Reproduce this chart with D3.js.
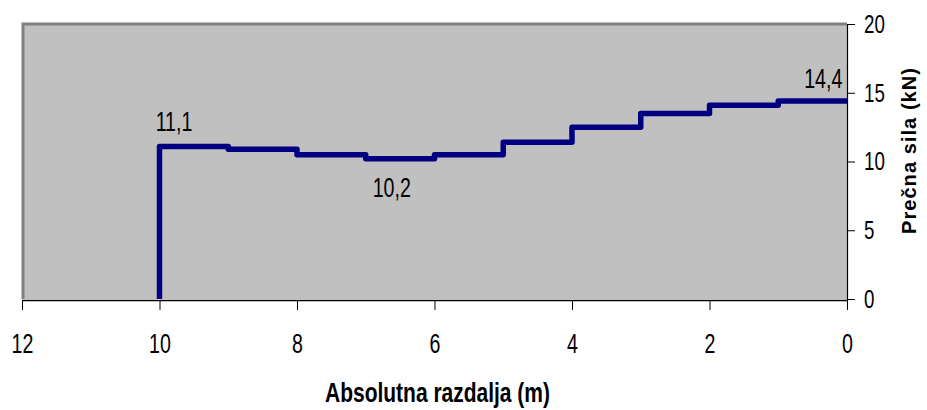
<!DOCTYPE html>
<html>
<head>
<meta charset="utf-8">
<script src="https://cdn.jsdelivr.net/npm/d3@7"></script>
<style>
  html, body { margin: 0; padding: 0; background: #fff; }
  svg { display: block; }
  text { font-family: "Liberation Sans", Arial, sans-serif; fill: #000; }
</style>
</head>
<body>
<svg id="chart" width="927" height="410"></svg>
<script>
// Segment start positions (m) and shear force on each segment (kN)
const segStart = [10, 9, 8, 7, 6, 5, 4, 3, 2, 1];
const shear = [11.1, 10.9, 10.5, 10.2, 10.5, 11.4, 12.5, 13.5, 14.1, 14.4];
const xTicks = [12, 10, 8, 6, 4, 2, 0];
const yTicks = [0, 5, 10, 15, 20];
// Annotated values: index into the segments
const labelled = [0, 3, 9];

const svg = d3.select("#chart");
const m = { left: 22, right: 847, top: 24, bottom: 299 };

const x = d3.scaleLinear().domain([12, 0]).range([m.left, m.right]);
const y = d3.scaleLinear().domain([0, 20]).range([m.bottom, m.top]);

// Squeeze text horizontally to get a narrow face
function condense(sel, k) {
  sel.each(function () {
    const w = this.getComputedTextLength();
    d3.select(this).attr("textLength", w * k).attr("lengthAdjust", "spacingAndGlyphs");
  });
}

// Plot area
svg.append("rect")
  .attr("x", m.left).attr("y", m.top - 1)
  .attr("width", m.right - m.left).attr("height", m.bottom - m.top + 1)
  .attr("fill", "#c0c0c0");
svg.append("path")
  .attr("d", `M${m.left + 1},${m.bottom}V${m.top}H${m.right}`)
  .attr("fill", "none").attr("stroke", "#808080").attr("stroke-width", 3);

// Step line
const pts = [[10, 0]].concat(segStart.map((s, i) => [s, shear[i]]));
pts.push([0, shear[shear.length - 1]]);
const line = d3.line().x(d => x(d[0])).y(d => y(d[1])).curve(d3.curveStepAfter);
svg.append("path")
  .attr("d", line(pts))
  .attr("fill", "none")
  .attr("stroke", "#000080")
  .attr("stroke-width", 5.5)
  .attr("stroke-linejoin", "round");

// X axis
const xAxis = svg.append("g")
  .attr("transform", `translate(0,${m.bottom + 1})`)
  .attr("font-family", null)
  .call(d3.axisBottom(x).tickValues(xTicks).tickSize(10).tickSizeOuter(0).tickPadding(23).tickFormat(d3.format("d")));
xAxis.attr("font-family", null);
xAxis.select(".domain").attr("stroke", "#000").attr("stroke-width", 1.5);
xAxis.selectAll(".tick line").attr("stroke", "#000");
xAxis.selectAll("text").attr("font-size", 28).attr("fill", "#000").call(condense, 0.7);

// Y axis (right side)
const yAxis = svg.append("g")
  .attr("transform", `translate(${m.right},0)`)
  .call(d3.axisRight(y).tickValues(yTicks).tickSize(8).tickSizeOuter(0).tickPadding(9).tickFormat(d3.format("d")));
yAxis.attr("font-family", null);
yAxis.select(".domain").attr("stroke", "#000").attr("stroke-width", 1.2);
yAxis.selectAll(".tick line").attr("stroke", "#000");
yAxis.selectAll("text").attr("font-size", 26).attr("fill", "#000").call(condense, 0.72);

// Value labels
const fmt = v => String(v).replace(".", ",");
const labelOffset = { 0: [14.5, -15.5], 3: [26, 38], 9: [45, -13] };
labelled.forEach(i => {
  const off = labelOffset[i];
  svg.append("text")
    .attr("x", x(segStart[i]) + off[0])
    .attr("y", y(shear[i]) + off[1])
    .attr("text-anchor", "middle")
    .attr("font-size", 28)
    .text(fmt(shear[i]))
    .call(condense, 0.7);
});

// Axis titles
svg.append("text")
  .attr("x", 437.5)
  .attr("y", 402)
  .attr("text-anchor", "middle")
  .attr("font-size", 27)
  .attr("font-weight", "bold")
  .attr("textLength", 225)
  .attr("lengthAdjust", "spacingAndGlyphs")
  .text("Absolutna razdalja (m)");

svg.append("text")
  .attr("transform", `translate(916,151) rotate(-90)`)
  .attr("text-anchor", "middle")
  .attr("font-size", 20)
  .attr("font-weight", "bold")
  .attr("textLength", 166)
  .attr("lengthAdjust", "spacing")
  .text("Prečna sila (kN)");
</script>
</body>
</html>
